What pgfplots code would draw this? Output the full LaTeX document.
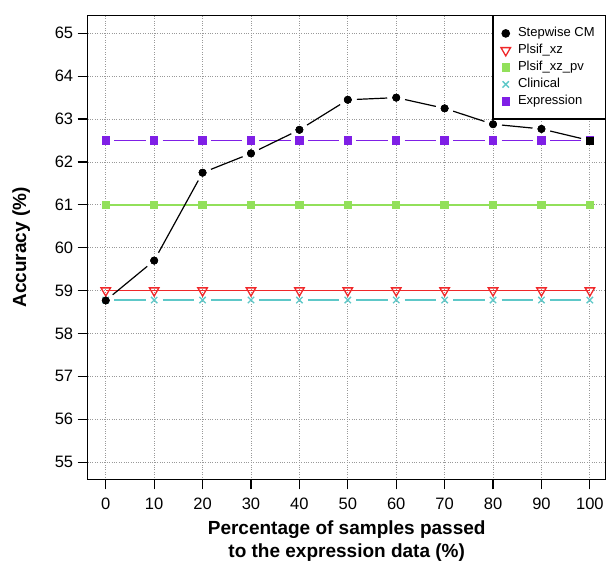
\documentclass[border=0pt]{standalone}
\usepackage{pgfplots}
\pgfplotsset{compat=1.18}
\usetikzlibrary{calc}
\usepackage{fontspec}
\setmainfont{Liberation Sans}
\definecolor{cRed}{HTML}{F0282A}
\definecolor{cGreen}{HTML}{92E05A}
\definecolor{cCyan}{HTML}{5EC8C8}
\definecolor{cPurple}{HTML}{7F1FE6}
\pgfplotstableread{
x   y
0   58.77
10  59.7
20  61.75
30  62.2
40  62.75
50  63.45
60  63.5
70  63.25
80  62.88
90  62.77
}\stepwise
\begin{document}
\begin{tikzpicture}
\begin{axis}[
  scale only axis, width=518pt, height=464pt,
  xmin=-3.73, xmax=103.27, ymin=54.60, ymax=65.42,
  xtick={0,10,...,100}, ytick={55,56,...,65},
  tick align=outside, major tick length=10pt,
  xtick pos=bottom, ytick pos=left,
  tick style={black, line width=1.2pt},
  axis line style={line width=1.3pt},
  grid=major, major grid style={gray!80, dotted, line width=0.8pt},
  /pgf/number format/assume math mode=true,
  tick label style={font=\fontsize{16.5}{20}\selectfont},
  yticklabel style={xshift=-1pt},
  xticklabel style={yshift=-5pt},
  xlabel={\bfseries Percentage of samples passed\\\bfseries to the expression data (\%)},
  xlabel style={font=\fontsize{19}{23.5}\selectfont, align=center, yshift=-4pt},
  ylabel={\bfseries Accuracy (\%)},
  ylabel style={font=\fontsize{19}{23}\selectfont, yshift=18pt},
  legend style={at={(1,1)}, anchor=north east, font=\fontsize{13}{15}\selectfont,
    draw=black, line width=1.2pt, inner xsep=8pt, inner ysep=9pt,
    nodes={inner sep=2.5pt, text height=9.5pt, text depth=2.5pt},
    column sep=5pt, row sep=0pt,
    legend cell align=left},
  legend image code/.code={\path (-3pt,0pt) (3pt,0pt); \draw[#1, solid] plot coordinates {(0pt,0pt)};},
  clip=false,
]
\coordinate (LL) at (rel axis cs:0,0);
\coordinate (UR) at (rel axis cs:1,1);
% Stepwise CM marks (legend entry)
\addplot[only marks, mark=*, mark size=3.7pt, black] table[x=x,y=y] {\stepwise};
\addlegendentry{Stepwise CM}
\addplot[cRed, line width=1.6pt, mark=triangle, mark options={solid, rotate=180, line width=1.3pt}, mark size=5.5pt] coordinates {
(0,59)(10,59)(20,59)(30,59)(40,59)(50,59)(60,59)(70,59)(80,59)(90,59)(100,59)};
\addlegendentry{Plsif\_xz}
\addplot[cGreen, line width=1.6pt, mark=square*, mark size=3.4pt] coordinates {
(0,61)(10,61)(20,61)(30,61)(40,61)(50,61)(60,61)(70,61)(80,61)(90,61)(100,61)};
\addlegendentry{Plsif\_xz\_pv}
\addplot[cCyan, line width=1.5pt, dash pattern=on 0pt off 8.5pt on 31.41pt off 8.5pt, mark=x, mark size=4.5pt, mark options={solid, line width=1.3pt}] coordinates {
(0,58.78)(10,58.78)(20,58.78)(30,58.78)(40,58.78)(50,58.78)(60,58.78)(70,58.78)(80,58.78)(90,58.78)(100,58.78)};
\addlegendentry{Clinical}
\addplot[cPurple, line width=1.5pt, dash pattern=on 0pt off 8.5pt on 31.41pt off 8.5pt, mark=square*, mark size=3.4pt, mark options={solid}] coordinates {
(0,62.5)(10,62.5)(20,62.5)(30,62.5)(40,62.5)(50,62.5)(60,62.5)(70,62.5)(80,62.5)(90,62.5)(100,62.5)};
\addlegendentry{Expression}
% Stepwise CM line segments with gaps round the points
\addplot[forget plot, black, line width=1.2pt, dash pattern=on 0pt off 9pt on 44.72pt off 60pt] coordinates {(0,58.77)(10,59.7)};
\addplot[forget plot, black, line width=1.2pt, dash pattern=on 0pt off 9pt on 82.35pt off 60pt] coordinates {(10,59.7)(20,61.75)};
\addplot[forget plot, black, line width=1.2pt, dash pattern=on 0pt off 9pt on 34.11pt off 60pt] coordinates {(20,61.75)(30,62.2)};
\addplot[forget plot, black, line width=1.2pt, dash pattern=on 0pt off 9pt on 35.85pt off 60pt] coordinates {(30,62.2)(40,62.75)};
\addplot[forget plot, black, line width=1.2pt, dash pattern=on 0pt off 9pt on 38.96pt off 60pt] coordinates {(40,62.75)(50,63.45)};
\addplot[forget plot, black, line width=1.2pt, dash pattern=on 0pt off 9pt on 30.46pt off 60pt] coordinates {(50,63.45)(60,63.5)};
\addplot[forget plot, black, line width=1.2pt, dash pattern=on 0pt off 9pt on 31.58pt off 60pt] coordinates {(60,63.5)(70,63.25)};
\addplot[forget plot, black, line width=1.2pt, dash pattern=on 0pt off 9pt on 32.94pt off 60pt] coordinates {(70,63.25)(80,62.88)};
\addplot[forget plot, black, line width=1.2pt, dash pattern=on 0pt off 9pt on 30.64pt off 60pt] coordinates {(80,62.88)(90,62.77)};
\addplot[forget plot, black, line width=1.2pt, dash pattern=on 0pt off 9pt on 31.77pt off 60pt] coordinates {(90,62.77)(100,62.5)};
\addplot[forget plot, only marks, mark=*, mark size=3.7pt, black] table[x=x,y=y] {\stepwise};
\addplot[forget plot, only marks, mark=square*, mark size=3.4pt, black] coordinates {(100,62.5)};
\end{axis}
\pgfresetboundingbox
\path ($(LL)+(-87.7pt,-83.7pt)$) rectangle ($(UR)+(0.3pt,15.3pt)$);
\end{tikzpicture}
\end{document}
